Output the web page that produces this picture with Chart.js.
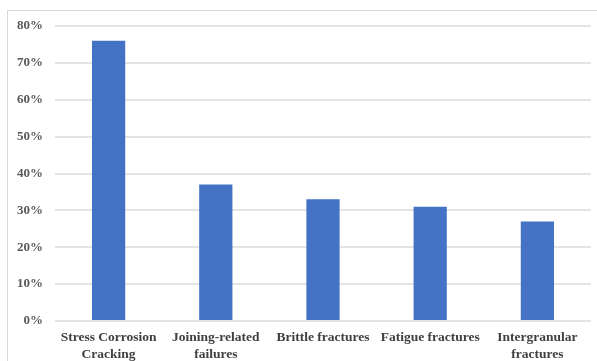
<html lang="en">
<head>
    <meta charset="UTF-8">
    <title>Failure types</title>
    <style>
        body { margin: 0; background: #fff; }
        #frame {
            position: absolute; left: 7px; top: 10px;
            width: 600px; height: 360px;
            border: 1px solid #d9d9d9;
        }
        #failChart { position: absolute; left: 0; top: 0; }
    </style>
</head>
<body>
    <div id="frame"></div>
    <canvas id="failChart" width="597" height="361"></canvas>

    <script src="https://cdn.jsdelivr.net/npm/chart.js@4.4.0/dist/chart.umd.min.js"></script>
    <script>
        // categories (multi-line labels)
        const categories = [
            ["Stress Corrosion", "Cracking"],
            ["Joining-related", "failures"],
            "Brittle fractures",
            "Fatigue fractures",
            ["Intergranular", "fractures"]
        ];
        // share of failures in percent
        const shares = [76, 37, 33, 31, 27];
        const yMax = 80;
        const yStep = 10;

        const labelFont = { family: "'Liberation Serif', 'Times New Roman', serif", size: 13.5, weight: 'bold', lineHeight: 1.25 };

        new Chart("failChart", {
            type: "bar",
            data: {
                labels: categories,
                datasets: [{
                    data: shares,
                    backgroundColor: "#4472C4",
                    borderWidth: 0,
                    categoryPercentage: 1,
                    barPercentage: 0.31
                }]
            },
            options: {
                responsive: false,
                animation: false,
                layout: { padding: { left: 0, right: 6, top: 26, bottom: 0 } },
                plugins: {
                    legend: { display: false },
                    tooltip: { enabled: false }
                },
                scales: {
                    x: {
                        grid: { display: false },
                        border: { display: false },
                        ticks: {
                            font: labelFont,
                            color: "#404040",
                            padding: 0,
                            maxRotation: 0,
                            autoSkip: false
                        },
                        afterFit: function (scale) { scale.height = 40; }
                    },
                    y: {
                        min: 0,
                        max: yMax,
                        grid: { color: "#e4e4e4", lineWidth: 2, drawTicks: false },
                        border: { display: false },
                        ticks: {
                            stepSize: yStep,
                            autoSkip: false,
                            font: { family: labelFont.family, size: 13, weight: 'bold' },
                            color: "#595959",
                            padding: 12,
                            callback: function (v) { return v + "%"; }
                        },
                        afterFit: function (scale) { scale.width = 55; }
                    }
                }
            }
        });
    </script>
</body>
</html>
